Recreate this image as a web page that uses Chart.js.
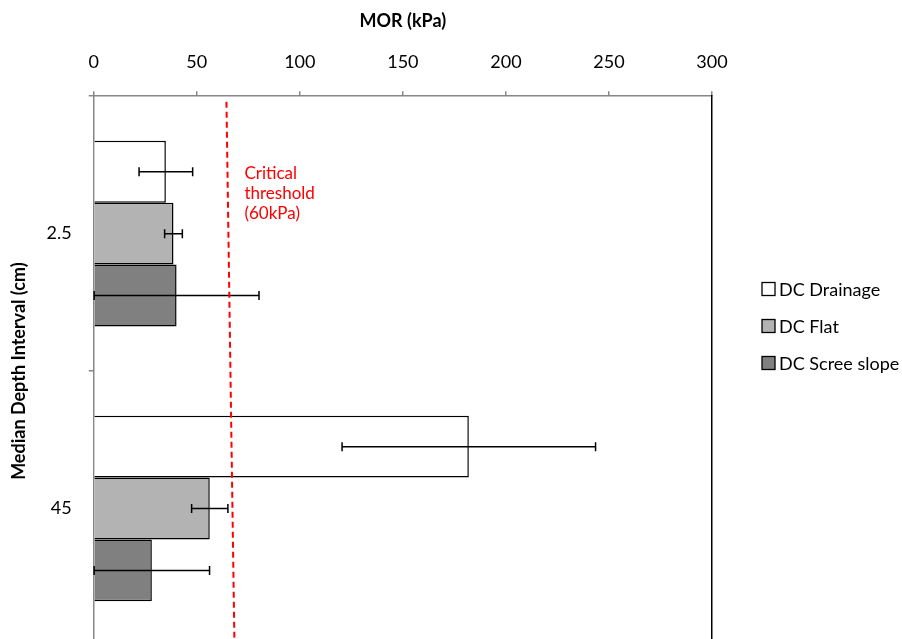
<!DOCTYPE html>
<html>
<head>
<meta charset="utf-8">
<title>MOR by depth</title>
<script src="https://cdn.jsdelivr.net/npm/chart.js@4.4.1/dist/chart.umd.min.js"></script>
<style>
  html, body { margin: 0; padding: 0; background: #fff; overflow: hidden; }
  #wrap { width: 902px; height: 639px; overflow: hidden; }
  #box { position: relative; width: 902px; height: 650px; }
</style>
</head>
<body>
<div id="wrap"><div id="box"><canvas id="chart"></canvas></div></div>
<script>
// --- Data ---
const categories = ['2.5', '45'];
const seriesNames = ['DC Drainage', 'DC Flat', 'DC Scree slope'];
const drainage = [35, 182];
const drainageErr = [13, 61.5];
const flat = [38.7, 56.3];
const flatErr = [4.3, 8.8];
const scree = [40.2, 28.2];
const screeErr = [40, 28];
const xTickStep = 50;
const xMin = 0;
const xMax = 300;
// threshold line: MOR value where it leaves the top and the bottom of the plot
const thresholdX = [64.4, 68.3];
const thresholdY = [0.99, 0];
const thresholdLabel = ['Critical', 'threshold', '(60kPa)'];

const FONT = 'Lato, "Open Sans", sans-serif';

// --- Error bars, from each dataset's errors array ---
const errorBars = {
    id: 'errorBars',
    afterDatasetsDraw(chart) {
        const ctx = chart.ctx;
        const xs = chart.scales.x;
        ctx.save();
        ctx.strokeStyle = '#000';
        ctx.lineWidth = 1.5;
        chart.data.datasets.forEach((ds, i) => {
            if (!ds.errors) return;
            const meta = chart.getDatasetMeta(i);
            meta.data.forEach((bar, j) => {
                const v = ds.data[j];
                const e = ds.errors[j];
                const x1 = xs.getPixelForValue(Math.max(xMin, v - e));
                const x2 = xs.getPixelForValue(v + e);
                const y = bar.y;
                ctx.beginPath();
                ctx.moveTo(x1, y); ctx.lineTo(x2, y);
                ctx.moveTo(x1, y - 4.5); ctx.lineTo(x1, y + 4.5);
                ctx.moveTo(x2, y - 4.5); ctx.lineTo(x2, y + 4.5);
                ctx.stroke();
            });
        });
        ctx.restore();
    }
};

// --- Critical threshold line + label ---
const threshold = {
    id: 'threshold',
    afterDatasetsDraw(chart) {
        const ctx = chart.ctx;
        const xs = chart.scales.x;
        const ys = chart.scales.y2;
        ctx.save();
        ctx.strokeStyle = '#ff0000';
        ctx.lineWidth = 2;
        ctx.setLineDash([6, 4]);
        ctx.beginPath();
        ctx.moveTo(xs.getPixelForValue(thresholdX[0]), ys.getPixelForValue(thresholdY[0]));
        ctx.lineTo(xs.getPixelForValue(thresholdX[1]), ys.getPixelForValue(thresholdY[1]));
        ctx.stroke();
        ctx.setLineDash([]);

        const x = xs.getPixelForValue(thresholdX[0]) + 18;
        const top = chart.chartArea.top;
        ctx.fillStyle = '#ff0000';
        ctx.font = '17px ' + FONT;
        ctx.textBaseline = 'middle';
        thresholdLabel.forEach((t, i) => ctx.fillText(t, x, top + 77 + i * 20));
        ctx.restore();
    }
};

// --- Legend on the right ---
const sideLegend = {
    id: 'sideLegend',
    afterDraw(chart) {
        const ctx = chart.ctx;
        ctx.save();
        ctx.font = '18px ' + FONT;
        ctx.textBaseline = 'middle';
        let y = 289;
        chart.data.datasets.forEach(ds => {
            ctx.fillStyle = ds.backgroundColor;
            ctx.fillRect(762, y - 6.5, 13, 13);
            ctx.strokeStyle = '#000';
            ctx.lineWidth = 1.3;
            ctx.strokeRect(762, y - 6.5, 13, 13);
            ctx.fillStyle = '#000';
            ctx.fillText(ds.label, 779, y + 1);
            y += 37;
        });
        ctx.restore();
    }
};

function barSet(label, data, errors, color) {
    return {
        label: label,
        data: data,
        errors: errors,
        backgroundColor: color,
        borderColor: '#000',
        borderWidth: 1.5,
        categoryPercentage: 0.675,
        barPercentage: 1.0
    };
}

// vertical axes: no extra room for half-labels above/below the plot
const noPad = (scale) => { scale.paddingTop = 0; scale.paddingBottom = 0; };

const ctx = document.getElementById('chart').getContext('2d');
new Chart(ctx, {
    type: 'bar',
    data: {
        labels: categories,
        datasets: [
            barSet(seriesNames[0], drainage, drainageErr, '#ffffff'),
            barSet(seriesNames[1], flat, flatErr, '#b3b3b3'),
            barSet(seriesNames[2], scree, screeErr, '#808080')
        ]
    },
    options: {
        indexAxis: 'y',
        responsive: true,
        maintainAspectRatio: false,
        animation: false,
        layout: { padding: { left: 8, right: 190, top: 0, bottom: 4 } },
        plugins: {
            legend: { display: false },
            tooltip: { enabled: false }
        },
        scales: {
            x: {
                type: 'linear',
                position: 'top',
                min: xMin,
                max: xMax,
                ticks: { stepSize: xTickStep, color: '#000', font: { family: FONT, size: 18 }, padding: 18 },
                grid: { drawOnChartArea: false, drawTicks: true, tickLength: 5, color: '#878787', lineWidth: 1.5 },
                border: { display: true, color: '#878787', width: 1.5 },
                title: {
                    display: true, text: 'MOR (kPa)', color: '#000',
                    font: { family: FONT, size: 18, weight: 'bold' },
                    padding: { top: 10, bottom: 2 }
                }
            },
            y: {
                type: 'category',
                position: 'left',
                ticks: { color: '#000', font: { family: FONT, size: 18 }, padding: 17 },
                grid: { drawOnChartArea: false, drawTicks: true, tickLength: 5, color: '#878787', lineWidth: 1.5, offset: true },
                border: { display: true, color: '#878787', width: 1.5 },
                title: {
                    display: true, text: 'Median Depth Interval (cm)', color: '#000',
                    font: { family: FONT, size: 18, weight: 'bold' },
                    padding: { top: 0, bottom: 0 }
                },
                afterFit: noPad
            },
            y2: {
                type: 'linear',
                position: 'right',
                min: 0,
                max: 1,
                offset: false,
                ticks: { display: false },
                grid: { display: false, drawTicks: false, offset: false },
                border: { display: true, color: '#000', width: 1.5 },
                afterFit: noPad
            }
        }
    },
    plugins: [errorBars, threshold, sideLegend]
});
</script>
</body>
</html>
